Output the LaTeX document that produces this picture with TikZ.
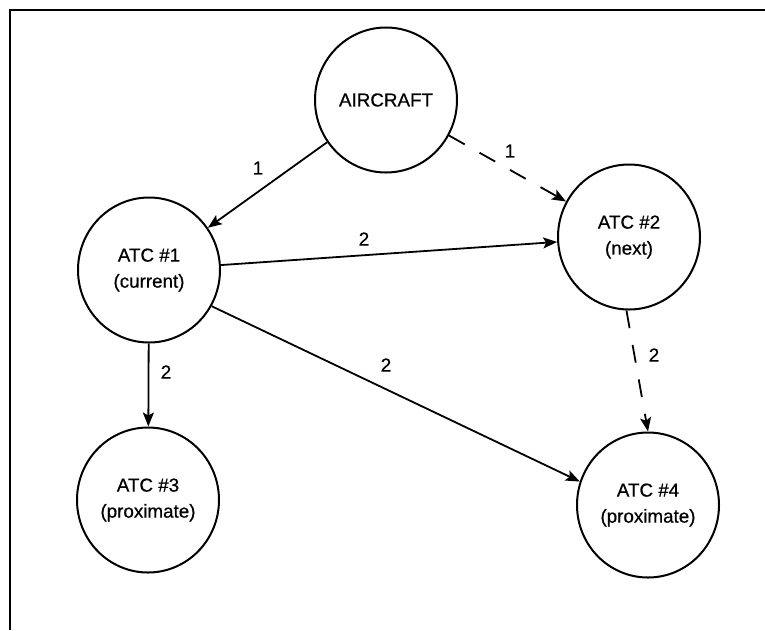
\documentclass[tikz,border=0pt]{standalone}
\usepackage{fontspec}
\setmainfont{Liberation Sans}[FakeBold=0.6]
\usetikzlibrary{shapes.geometric,arrows.meta}

\tikzset{
  station/.style={ellipse, draw, line width=2pt, minimum width=142pt,
    minimum height=145pt, inner sep=0pt, align=center,
    font=\fontsize{18.8}{26}\selectfont},
  link/.style={line width=1.8pt,
    -{Stealth[length=14pt,width=11pt,inset=3pt]}},
  tentative/.style={link, dash pattern=on 18pt off 17pt},
  tag/.style={font=\fontsize{18.8}{20}\selectfont, inner sep=0pt},
  frameline/.style={line width=2pt}
}

\begin{document}
\begin{tikzpicture}[x=1pt, y=-1pt]
  \useasboundingbox (0,0) rectangle (765,630);

  % open frame: top and left edges
  \coordinate (ftl) at (10,10);
  \coordinate (ftr) at (765,10);
  \coordinate (fbl) at (10,630);
  \draw[frameline] (ftr) -- (ftl) -- (fbl);

  % aircraft and air traffic control stations
  \node[station] (air) at (386,100) {AIRCRAFT};
  \node[station] (c1)  at (149,270) {ATC \#1\\(current)};
  \node[station] (c2)  at (629,237) {ATC \#2\\(next)};
  \node[station] (c3)  at (148,500) {ATC \#3\\(proximate)};
  \node[station] (c4)  at (648,505) {ATC \#4\\(proximate)};

  % message flows
  \draw[link] (air) -- (c1);
  \draw[tentative] (air) -- (c2);
  \draw[link] (c1) -- (c2);
  \draw[link] (c1) -- (c3);
  \draw[link] (c1.-30) -- (c4.161);
  \draw[tentative] (c2.268) -- (c4.north);

  % step numbers
  \node[tag] (n1)  at (258,168) {1};
  \node[tag] (n1b) at (510,151) {1};
  \node[tag] (n2a) at (364,239) {2};
  \node[tag] (n2b) at (166,372) {2};
  \node[tag] (n2c) at (386,365) {2};
  \node[tag] (n2d) at (654,355) {2};
\end{tikzpicture}
\end{document}
